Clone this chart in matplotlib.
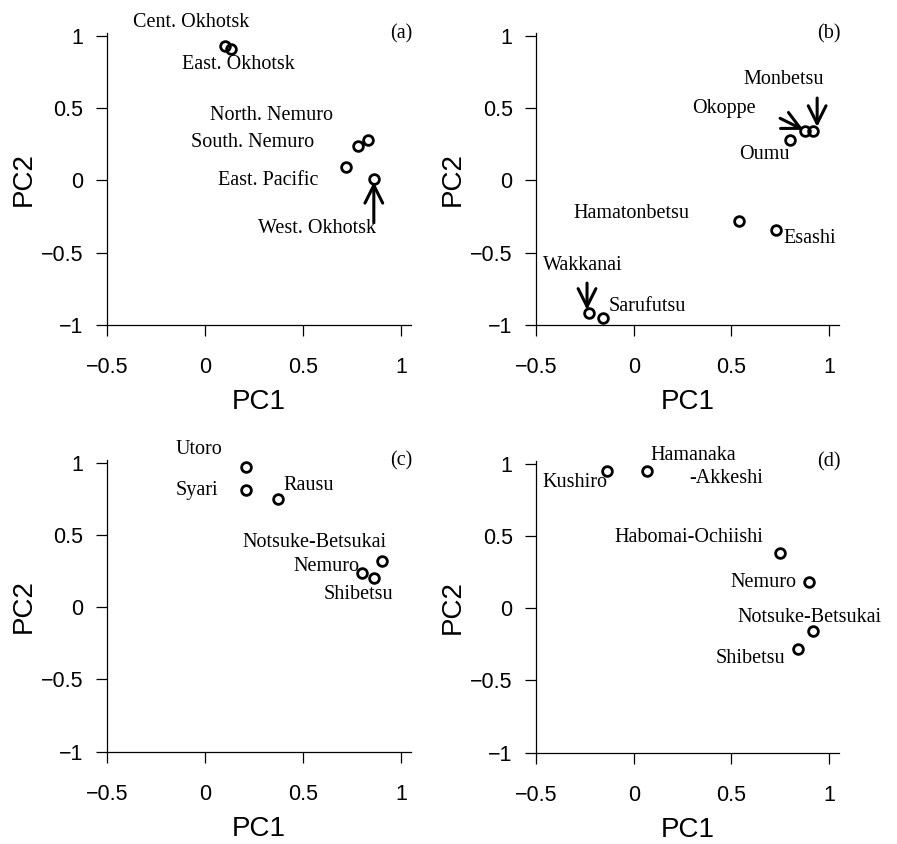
import matplotlib
matplotlib.use("Agg")
import matplotlib.pyplot as plt

plt.rcParams['font.family'] = ['Liberation Sans', 'DejaVu Sans']

# ---- data (PC1, PC2 loadings) ----
names_a = ['Cent. Okhotsk', 'East. Okhotsk', 'North. Nemuro', 'South. Nemuro',
           'East. Pacific', 'West. Okhotsk']
pc1_a = [0.10, 0.13, 0.83, 0.78, 0.72, 0.86]
pc2_a = [0.93, 0.91, 0.28, 0.24, 0.09, 0.01]

names_b = ['Monbetsu', 'Okoppe', 'Oumu', 'Hamatonbetsu', 'Esashi',
           'Wakkanai', 'Sarufutsu']
pc1_b = [0.92, 0.88, 0.80, 0.54, 0.73, -0.23, -0.16]
pc2_b = [0.34, 0.34, 0.28, -0.28, -0.34, -0.92, -0.95]

names_c = ['Utoro', 'Syari', 'Rausu', 'Notsuke-Betsukai', 'Nemuro', 'Shibetsu']
pc1_c = [0.21, 0.21, 0.37, 0.90, 0.80, 0.86]
pc2_c = [0.97, 0.81, 0.75, 0.32, 0.24, 0.20]

names_d = ['Kushiro', 'Hamanaka\n-Akkeshi', 'Habomai-Ochiishi', 'Nemuro',
           'Notsuke-Betsukai', 'Shibetsu']
pc1_d = [-0.14, 0.07, 0.75, 0.90, 0.92, 0.84]
pc2_d = [0.95, 0.95, 0.38, 0.18, -0.16, -0.28]

ticks_x = [-0.5, 0, 0.5, 1]
ticks_y = [-1, -0.5, 0, 0.5, 1]
tick_labels_x = ['\u22120.5', '0', '0.5', '1']
tick_labels_y = ['\u22121', '\u22120.5', '0', '0.5', '1']

# ---- label layout: one (x, y, ha) per text line of each name ----
lab_a = [[(-0.07, 1.09, 'center')], [(0.17, 0.80, 'center')],
         [(0.34, 0.45, 'center')], [(0.24, 0.26, 'center')],
         [(0.32, 0.0, 'center')], [(0.57, -0.33, 'center')]]
lab_b = [[(0.77, 0.70, 'center')], [(0.46, 0.50, 'center')],
         [(0.67, 0.18, 'center')], [(-0.01, -0.23, 'center')],
         [(0.765, -0.40, 'left')], [(-0.26, -0.59, 'center')],
         [(-0.13, -0.87, 'left')]]
lab_c = [[(-0.03, 1.09, 'center')], [(-0.04, 0.81, 'center')],
         [(0.40, 0.84, 'left')], [(0.56, 0.45, 'center')],
         [(0.785, 0.28, 'right')], [(0.78, 0.09, 'center')]]
lab_d = [[(-0.30, 0.87, 'center')],
         [(0.085, 1.06, 'left'), (0.285, 0.90, 'left')],
         [(0.28, 0.49, 'center')], [(0.835, 0.18, 'right')],
         [(0.90, -0.065, 'center')], [(0.60, -0.35, 'center')]]

# arrows: (tail, head)
arrows_a = [((0.86, -0.29), (0.86, -0.01))]
arrows_b = [((0.94, 0.57), (0.94, 0.37)), ((0.75, 0.43), (0.87, 0.35)),
            ((-0.24, -0.71), (-0.24, -0.895))]

panels = [
    ('(a)', names_a, pc1_a, pc2_a, lab_a, arrows_a, [0.1193, 0.6149, 0.339, 0.346]),
    ('(b)', names_b, pc1_b, pc2_b, lab_b, arrows_b, [0.5979, 0.6149, 0.337, 0.346]),
    ('(c)', names_c, pc1_c, pc2_c, lab_c, [], [0.1193, 0.1094, 0.339, 0.3456]),
    ('(d)', names_d, pc1_d, pc2_d, lab_d, [], [0.5979, 0.1082, 0.337, 0.3456]),
]

fig = plt.figure(figsize=(8.97, 8.44), dpi=100)
serif = ['Liberation Serif', 'DejaVu Serif']

for tag, names, x, y, labs, arrows, rect in panels:
    ax = fig.add_axes(rect)
    ax.plot(x, y, 'o', ms=7, mfc='none', mec='black', mew=2, clip_on=False)
    for name, pieces in zip(names, labs):
        for line, (lx, ly, ha) in zip(name.split('\n'), pieces):
            ax.text(lx, ly, line, ha=ha, va='center', fontsize=14.5, family=serif)
    for tail, head in arrows:
        ax.annotate('', xy=head, xytext=tail,
                    arrowprops=dict(arrowstyle='->', lw=2.2, color='black',
                                    mutation_scale=32, shrinkA=0, shrinkB=0))
    ax.text(1.0, 1.015, tag, ha='center', va='center', fontsize=14.5, family=serif)
    ax.set_xlim(-0.5, 1.05)
    ax.set_ylim(-1, 1.02)
    ax.spines['top'].set_visible(False)
    ax.spines['right'].set_visible(False)
    ax.spines['left'].set_linewidth(0.9)
    ax.spines['bottom'].set_linewidth(0.9)
    ax.set_xticks(ticks_x)
    ax.set_xticklabels(tick_labels_x)
    ax.set_yticks(ticks_y)
    ax.set_yticklabels(tick_labels_y)
    ax.tick_params(axis='both', direction='out', length=8, width=0.9,
                   labelsize=15.5)
    ax.tick_params(axis='x', pad=15)
    ax.tick_params(axis='y', pad=9)
    ax.set_xlabel('PC1', fontsize=20, labelpad=8)
    ax.set_ylabel('PC2', fontsize=20, labelpad=3)

fig.savefig('out.png', dpi=100)
